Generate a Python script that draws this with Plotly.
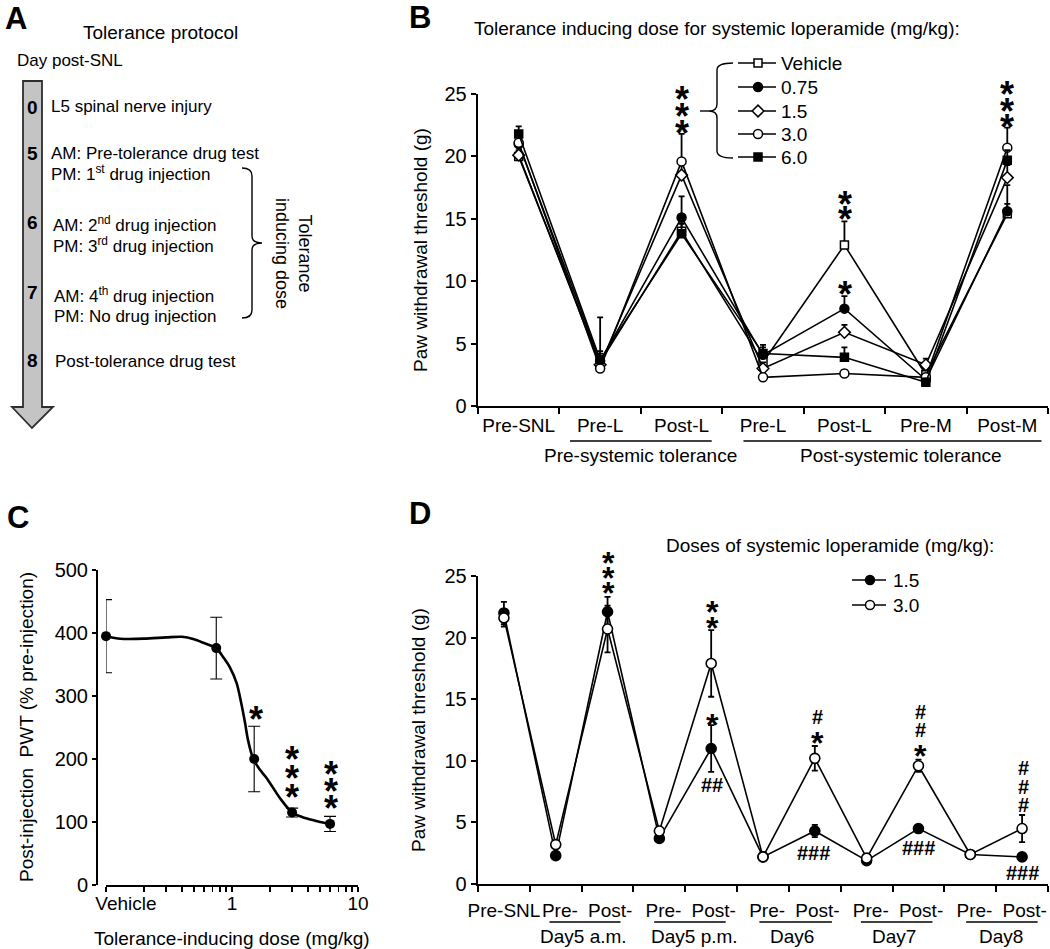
import plotly.graph_objects as go

W, H = 1050, 949
FONT = "Liberation Sans, Arial, Helvetica, sans-serif"

# ---------------- Panel B data ----------------
b_categories = ["Pre-SNL", "Pre-L", "Post-L", "Pre-L", "Post-L", "Pre-M", "Post-M"]
b_groups = ["Pre-systemic tolerance", "Post-systemic tolerance"]
b_series_names = ["Vehicle", "0.75", "1.5", "3.0", "6.0"]
b_vehicle = [20.0, 3.5, 14.0, 3.5, 12.9, 2.5, 15.4]
b_vehicle_err = [0.4, 3.6, 0.8, 0.5, 1.9, 0.4, 0.8]
b_dose_075 = [21.0, 3.6, 15.1, 4.1, 7.8, 2.1, 15.6]
b_dose_075_err = [0.5, 0.6, 1.7, 0.6, 1.0, 0.4, 2.1]
b_dose_15 = [20.1, 3.3, 18.5, 3.0, 5.9, 3.3, 18.3]
b_dose_15_err = [0.4, 0.5, 0.8, 0.5, 0.6, 0.5, 1.0]
b_dose_30 = [21.1, 3.0, 19.6, 2.3, 2.6, 2.3, 20.7]
b_dose_30_err = [0.5, 0.5, 2.2, 0.3, 0.3, 0.3, 1.6]
b_dose_60 = [21.8, 3.7, 13.8, 4.2, 3.9, 1.9, 19.7]
b_dose_60_err = [0.6, 0.7, 0.8, 0.7, 0.8, 0.3, 0.8]

# ---------------- Panel C data ----------------
c_tick_labels = ["Vehicle", "1", "10"]
c_dose = [0.1, 0.75, 1.5, 3.0, 6.0]          # vehicle plotted at 0.1
c_pwt = [395, 376, 200, 115, 97]
c_err = [58, 49, 52, 7, 12]
c_fit_dose = [0.1, 0.13, 0.2, 0.3, 0.4, 0.5, 0.6, 0.75, 0.85, 0.96, 1.09, 1.18,
              1.27, 1.34, 1.47, 1.65, 1.88, 2.4, 3.0, 3.6, 4.2, 5.0, 6.0]
c_fit_pwt = [395, 391, 391, 393, 394, 390, 384, 376, 362, 346, 320, 290,
             257, 230, 201, 184, 170, 138, 115, 108, 104, 100, 97]

# ---------------- Panel D data ----------------
d_categories = ["Pre-SNL", "Pre-", "Post-", "Pre-", "Post-", "Pre-", "Post-",
                "Pre-", "Post-", "Pre-", "Post-"]
d_groups = ["Day5 a.m.", "Day5 p.m.", "Day6", "Day7", "Day8"]
d_series_names = ["1.5", "3.0"]
d_dose_15 = [22.0, 2.3, 22.1, 3.7, 11.0, 2.2, 4.3, 1.9, 4.5, 2.4, 2.2]
d_dose_15_err = [0.9, 0.2, 1.2, 0.3, 1.9, 0.2, 0.5, 0.2, 0.3, 0.2, 0.2]
d_dose_30 = [21.6, 3.2, 20.7, 4.3, 17.9, 2.2, 10.2, 2.1, 9.6, 2.4, 4.5]
d_dose_30_err = [0.7, 0.3, 1.9, 0.3, 2.7, 0.2, 1.0, 0.2, 0.5, 0.2, 1.1]

fig = go.Figure()

# ---------------- Panel B traces ----------------
b_styles = [
    (b_vehicle, b_vehicle_err, "square", "white", 8),
    (b_dose_075, b_dose_075_err, "circle", "black", 9),
    (b_dose_15, b_dose_15_err, "diamond", "white", 9),
    (b_dose_30, b_dose_30_err, "circle", "white", 9),
    (b_dose_60, b_dose_60_err, "square", "black", 8),
]
bx = list(range(len(b_categories)))
for (vals, err, sym, fill, sz), name in zip(b_styles, b_series_names):
    fig.add_trace(go.Scatter(
        x=bx, y=vals, name=name, mode="lines+markers", showlegend=False,
        line=dict(color="black", width=1.6),
        marker=dict(symbol=sym, size=sz, color=fill, line=dict(color="black", width=1.5)),
        error_y=dict(type="data", symmetric=False, array=err, arrayminus=[0] * len(err),
                     color="black", thickness=1.8, width=3),
        xaxis="x", yaxis="y", cliponaxis=False))

# ---------------- Panel C traces ----------------
fig.add_trace(go.Scatter(
    x=c_fit_dose, y=c_fit_pwt, mode="lines", showlegend=False,
    line=dict(color="black", width=2.6, shape="spline", smoothing=0.8),
    xaxis="x2", yaxis="y2", cliponaxis=False))
fig.add_trace(go.Scatter(
    x=c_dose, y=c_pwt, mode="markers", showlegend=False,
    marker=dict(symbol="circle", size=10, color="black"),
    error_y=dict(type="data", array=c_err, color="black", thickness=1.1, width=6),
    xaxis="x2", yaxis="y2", cliponaxis=False))

# ---------------- Panel D traces ----------------
dx = list(range(len(d_categories)))
for vals, err, fill, name in [(d_dose_15, d_dose_15_err, "black", d_series_names[0]),
                              (d_dose_30, d_dose_30_err, "white", d_series_names[1])]:
    fig.add_trace(go.Scatter(
        x=dx, y=vals, name=name, mode="lines+markers", showlegend=False,
        line=dict(color="black", width=1.6),
        marker=dict(symbol="circle", size=10, color=fill, line=dict(color="black", width=1.6)),
        error_y=dict(type="data", array=err, color="black", thickness=1.8, width=3),
        xaxis="x3", yaxis="y3", cliponaxis=False))

# ---------------- Legend keys (pixel overlay axis x4/y4) ----------------
b_leg_rows = [63, 87, 111, 134, 157]
for (vals, err, sym, fill, sz), name, yy in zip(b_styles, b_series_names, b_leg_rows):
    fig.add_trace(go.Scatter(x=[738, 776], y=[yy, yy], mode="lines", showlegend=False,
                             line=dict(color="black", width=1.6), xaxis="x4", yaxis="y4"))
    fig.add_trace(go.Scatter(x=[758], y=[yy], mode="markers", showlegend=False,
                             marker=dict(symbol=sym, size=sz, color=fill,
                                         line=dict(color="black", width=1.5)),
                             xaxis="x4", yaxis="y4", cliponaxis=False))
d_leg_rows = [580, 605]
for fill, yy in zip(["black", "white"], d_leg_rows):
    fig.add_trace(go.Scatter(x=[852, 886], y=[yy, yy], mode="lines", showlegend=False,
                             line=dict(color="black", width=1.6), xaxis="x4", yaxis="y4"))
    fig.add_trace(go.Scatter(x=[870], y=[yy], mode="markers", showlegend=False,
                             marker=dict(symbol="circle", size=9, color=fill,
                                         line=dict(color="black", width=1.5)),
                             xaxis="x4", yaxis="y4", cliponaxis=False))

annotations = []
shapes = []


def ann(text, x, y, size=19, xanchor="center", yanchor="middle", xref="x4", yref="y4",
        angle=0, bold=False):
    if bold:
        text = "<b>" + text + "</b>"
    annotations.append(dict(text=text, x=x, y=y, xref=xref, yref=yref, showarrow=False,
                            xanchor=xanchor, yanchor=yanchor, textangle=angle,
                            borderpad=0,
                            font=dict(family=FONT, size=size, color="black")))


# ---------------- Panel A ----------------
ann("A", 4, 18, size=31, xanchor="left", bold=True)
ann("Tolerance protocol", 160, 32, size=19)
ann("Day post-SNL", 16, 60, size=17, xanchor="left")
shapes.append(dict(type="path", xref="x4", yref="y4",
                   path="M 23 81 L 42 81 L 42 407 L 53 407 L 32 428 L 12 407 L 23 407 Z",
                   fillcolor="#c4c4c4", line=dict(color="#2e2e2e", width=1.8), layer="below"))
a_days = ["0", "5", "6", "7", "8"]
a_day_y = [107, 153, 222, 292, 360]
for d, yy in zip(a_days, a_day_y):
    ann(d, 32, yy, size=19, bold=True)
a_lines = [
    ("L5 spinal nerve injury", 50, 106),
    ("AM: Pre-tolerance drug test", 50, 153),
    ("PM: 1<sup>st</sup> drug injection", 50, 173),
    ("AM: 2<sup>nd</sup> drug injection", 52, 224),
    ("PM: 3<sup>rd</sup> drug injection", 52, 245),
    ("AM: 4<sup>th</sup> drug injection", 53, 295),
    ("PM: No drug injection", 53, 316),
    ("Post-tolerance drug test", 54, 361),
]
for t, xx, yy in a_lines:
    ann(t, xx, yy, size=17, xanchor="left")
shapes.append(dict(type="path", xref="x4", yref="y4",
                   path="M 242 168 Q 252 168 252 176 L 252 236 Q 252 243 262 243 "
                        "Q 252 243 252 250 L 252 310 Q 252 318 242 318",
                   line=dict(color="black", width=1.4)))
ann("Tolerance<br>inducing dose", 294, 253, size=18, angle=90)

# ---------------- Panel B annotations ----------------
ann("B", 420, 17, size=31, bold=True)
ann("Tolerance inducing dose for systemic loperamide (mg/kg):", 473, 28, size=19,
    xanchor="left")
ann("Paw withdrawal threshold (g)", 420, 250, size=19, angle=-90)
for name, yy in zip(b_series_names, b_leg_rows):
    ann(name, 780, yy, size=19, xanchor="left")
shapes.append(dict(type="path", xref="x4", yref="y4",
                   path="M 733 63 Q 717 63 717 70 L 717 104 Q 717 111 709 111 "
                        "Q 717 111 717 118 L 717 151 Q 717 158 733 158",
                   line=dict(color="black", width=1.4)))
shapes.append(dict(type="line", xref="x4", yref="y4", x0=700, x1=709, y0=111, y1=111,
                   line=dict(color="black", width=1.4)))
b_underlines = [(0.63, 2.37), (2.76, 6.42)]
b_group_x = [1.5, 4.7]
for (x0, x1), gx, g in zip(b_underlines, b_group_x, b_groups):
    shapes.append(dict(type="line", xref="x", yref="y4", x0=x0, x1=x1, y0=441, y1=441,
                       line=dict(color="black", width=1.5)))
    ann(g, gx, 455, size=19, xref="x")

STAR_B = 36
b_stars = [(682, [90, 107, 124]), (845, [195, 210]), (845, [285]), (1007, [85, 102, 118])]
for xx, ys in b_stars:
    for yy in ys:
        ann("*", xx, yy + 9, size=STAR_B, bold=True)

# ---------------- Panel C annotations ----------------
ann("C", 18, 517, size=31, bold=True)
ann("Post-injection  PWT (% pre-injection)", 26, 727, size=19, angle=-90)
ann("Tolerance-inducing dose (mg/kg)", 232, 938, size=19)
c_stars = [(256, [710]), (292, [750, 769, 788]), (331, [765, 782, 799])]
for xx, ys in c_stars:
    for yy in ys:
        ann("*", xx, yy + 9, size=STAR_B, bold=True)

# ---------------- Panel D annotations ----------------
ann("D", 420, 513, size=31, bold=True)
ann("Doses of systemic loperamide (mg/kg):", 665, 545, size=19, xanchor="left")
for name, yy in zip(d_series_names, d_leg_rows):
    ann(name, 892, yy, size=19, xanchor="left")
ann("Paw withdrawal threshold (g)", 418, 730, size=19, angle=-90)
d_underlines = [(0.88, 2.25), (2.9, 4.28), (4.93, 6.33), (6.89, 8.27), (8.92, 10.3)]
d_group_x = [1.54, 3.67, 5.55, 7.52, 9.59]
for (x0, x1), gx, g in zip(d_underlines, d_group_x, d_groups):
    shapes.append(dict(type="line", xref="x3", yref="y4", x0=x0, x1=x1, y0=922, y1=922,
                       line=dict(color="black", width=1.5)))
    ann(g, gx, 936, size=19, xref="x3")

STAR_D = 32
d_stars = [(608, [555, 570, 585]), (712, [604, 620]), (712, [717]), (817, [735]), (920, [748])]
for xx, ys in d_stars:
    for yy in ys:
        ann("*", xx, yy + 8, size=STAR_D, bold=True)
d_hashes = [("##", 712, 785), ("#", 817, 717), ("###", 813, 853),
            ("#", 920, 712), ("#", 920, 730), ("###", 918, 848),
            ("#", 1023, 768), ("#", 1023, 787), ("#", 1023, 805), ("###", 1022, 873)]
for t, xx, yy in d_hashes:
    ann(t, xx, yy, size=20, bold=True)

# label anchor positions for D tick texts (slightly offset like the reference)
d_label_pos = [0] + [k + (0.08 if k % 2 == 1 else 0.05) for k in range(1, len(d_categories))]


# ---------------- Axes ----------------
def axis(**kw):
    d = dict(showline=True, linecolor="black", linewidth=2.3, showgrid=False, zeroline=False,
             tickfont=dict(family=FONT, size=19, color="black"), tickcolor="black",
             tickwidth=2, fixedrange=True, automargin=False, tickangle=0)
    d.update(kw)
    return d


def dom_x(a, b):
    return [a / W, b / W]


def dom_y(top, bottom):
    return [1 - bottom / H, 1 - top / H]


fig.update_layout(
    template="none",
    width=W, height=H, margin=dict(l=0, r=0, t=0, b=0, pad=0, autoexpand=False),
    paper_bgcolor="white", plot_bgcolor="rgba(0,0,0,0)",
    font=dict(family=FONT, size=19, color="black"),
    xaxis=axis(domain=dom_x(478, 1048), anchor="y", range=[-0.5, len(b_categories) - 0.5],
               tickmode="array", tickvals=bx, ticktext=b_categories, ticks="",
               ticklabelstandoff=1,
               minor=dict(tickmode="array", tickvals=[i - 0.5 for i in range(len(b_categories) + 1)],
                          ticks="outside", ticklen=6, tickwidth=2, tickcolor="black")),
    yaxis=axis(domain=dom_y(94, 406), anchor="x", range=[0, 25], tickmode="array",
               tickvals=[0, 5, 10, 15, 20, 25], ticks="outside", ticklen=5,
               tickfont=dict(family=FONT, size=20, color="black")),
    xaxis2=axis(domain=dom_x(106, 358), anchor="y2", type="log", range=[-1, 1],
                tickmode="array", tickvals=[0.144, 1, 10], ticktext=c_tick_labels,
                ticks="",
                minor=dict(tickmode="array",
                           tickvals=[0.1, 0.2, 0.3, 0.4, 0.5, 0.6, 0.7, 0.8, 0.9, 1,
                                     2, 3, 4, 5, 6, 7, 8, 9, 10],
                           ticks="outside", ticklen=5, tickwidth=1.6, tickcolor="black")),
    yaxis2=axis(domain=dom_y(570, 885), anchor="free", position=97 / W, range=[0, 500],
                tickmode="array", tickvals=[0, 100, 200, 300, 400, 500], ticks="outside",
                ticklen=4, tickfont=dict(family=FONT, size=20, color="black")),
    xaxis3=axis(domain=dom_x(478, 1048), anchor="y3", range=[-0.5, len(d_categories) - 0.5],
                tickmode="array", tickvals=d_label_pos, ticktext=d_categories, ticks="",
                ticklabelstandoff=8,
                minor=dict(tickmode="array", tickvals=[i - 0.5 for i in range(len(d_categories) + 1)],
                           ticks="outside", ticklen=6, tickwidth=2, tickcolor="black")),
    yaxis3=axis(domain=dom_y(576, 884), anchor="x3", range=[0, 25], tickmode="array",
                tickvals=[0, 5, 10, 15, 20, 25], ticks="outside", ticklen=5,
                tickfont=dict(family=FONT, size=20, color="black")),
    xaxis4=dict(domain=[0, 1], range=[0, W], visible=False, fixedrange=True, anchor="y4",
                automargin=False),
    yaxis4=dict(domain=[0, 1], range=[H, 0], visible=False, fixedrange=True, anchor="x4",
                automargin=False),
    annotations=annotations, shapes=shapes, showlegend=False,
)

fig.write_html("out.html", config={"displayModeBar": False, "staticPlot": True},
               post_script="document.body.style.margin='0px';")
